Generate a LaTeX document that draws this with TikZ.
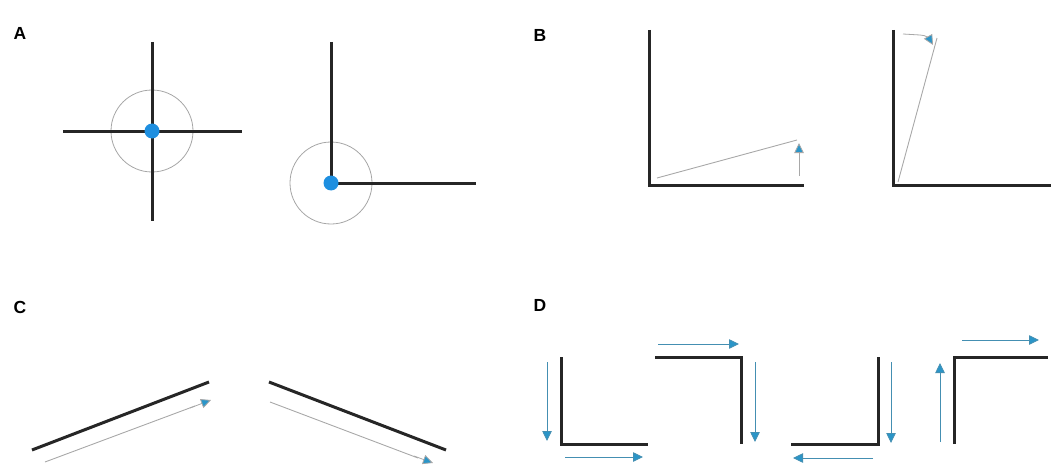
\documentclass[tikz,border=0pt]{standalone}
\usepackage{fontspec}
\setmainfont{Liberation Sans}
\usetikzlibrary{arrows.meta}
\definecolor{dotblue}{HTML}{1E8FE0}
\definecolor{arrblue}{HTML}{2A95C8}
\definecolor{thingrey}{HTML}{A8A8A8}
\begin{document}
\begin{tikzpicture}[x=1pt,y=-1pt,
  bar/.style={draw=black!85, line width=3pt},
  ring/.style={draw=gray!70, line width=0.8pt},
  guide/.style={draw=thingrey, line width=0.9pt},
  dir/.style={draw=arrblue!70!gray, line width=0.8pt, -{Triangle[length=10pt,width=9.5pt,fill=arrblue]}},
  pivot/.style={fill=dotblue},
  lbl/.style={font=\bfseries\fontsize{17.5}{17.5}\selectfont, anchor=center}]
\useasboundingbox (0,0) rectangle (1051,468);
% labels
\node[lbl] (la) at (20,33) {A};
\node[lbl] (lb) at (540,35) {B};
\node[lbl] (lc) at (20,307) {C};
\node[lbl] (ld) at (540,305) {D};
% Panel A
\draw[ring] (152,131) circle (41);
\draw[bar] (152,42) -- (152,221);
\draw[bar] (63,131) -- (242,131);
\fill[pivot] (152,131) circle (7.5);
\draw[ring] (331,183) circle (41);
\draw[bar] (331,42) -- (331,183) -- (476,183);
\fill[pivot] (331,183) circle (7.5);
% Panel B
\draw[bar] (649,30) -- (649,185) -- (804,185);
\draw[guide] (657,178) -- (797,140);
\draw[dir,draw=thingrey] (799,176) -- (799,143);
\draw[bar] (893,30) -- (893,185) -- (1051,185);
\draw[guide] (898,182) -- (937,38);
\draw[dir,draw=thingrey] (903,34) -- (920,35) to[out=0,in=120] (933,45);
% Panel C
\draw[bar] (32,450) -- (209,382);
\draw[guide] (45,462) -- (195,406);
\draw[dir,draw=thingrey] (190,408) -- (211,400);
\draw[bar] (269,382) -- (446,450);
\draw[guide] (270,402) -- (418,458);
\draw[dir,draw=thingrey] (414,456) -- (433,463);
% Panel D
\draw[bar] (561,357) -- (561,444) -- (648,444);
\draw[dir] (547,362) -- (547,441);
\draw[dir] (565,457) -- (643,457);
\draw[bar] (655,357) -- (741,357) -- (741,444);
\draw[dir] (658,344) -- (739,344);
\draw[dir] (755,362) -- (755,442);
\draw[bar] (791,444) -- (878,444) -- (878,357);
\draw[dir] (891,362) -- (891,443);
\draw[dir] (873,458) -- (793,458);
\draw[bar] (954,444) -- (954,357) -- (1048,357);
\draw[dir] (940,442) -- (940,363);
\draw[dir] (962,340) -- (1039,340);
\end{tikzpicture}
\end{document}
